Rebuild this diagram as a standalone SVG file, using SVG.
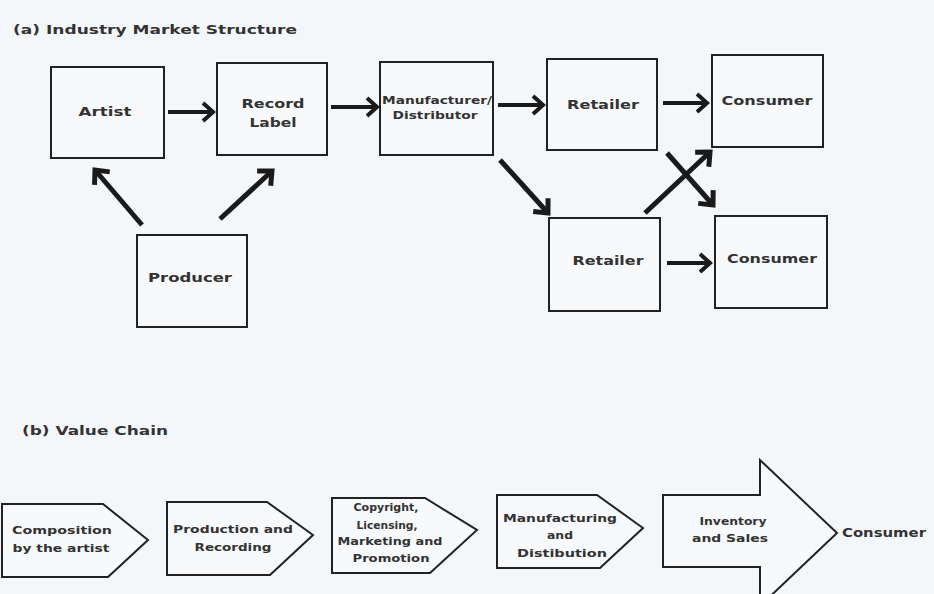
<svg xmlns="http://www.w3.org/2000/svg" width="934" height="594" viewBox="0 0 934 594">
<defs>
<marker id="ah" markerUnits="userSpaceOnUse" markerWidth="20" markerHeight="20" refX="13" refY="10" orient="auto" overflow="visible">
<path d="M3,1 L13,10 L3,19" fill="none" stroke="#1a1a1a" stroke-width="4" stroke-linejoin="miter"/>
</marker>
<marker id="ahb" markerUnits="userSpaceOnUse" markerWidth="22" markerHeight="22" refX="14" refY="11" orient="auto" overflow="visible">
<path d="M3,1 L14,11 L3,21" fill="none" stroke="#1a1a1a" stroke-width="5" stroke-linejoin="miter"/>
</marker>
</defs>
<style>
.bg{fill:#f4f7fa}
.box{fill:#f7f9fb;stroke:#222;stroke-width:2}
.t{font-family:"DejaVu Sans","Liberation Sans",sans-serif;font-weight:bold;fill:#333;text-anchor:middle}
.m{font-size:13px}
.s{font-size:10px}
.h{font-family:"DejaVu Sans","Liberation Sans",sans-serif;font-weight:bold;fill:#333;font-size:12px}
.c{stroke:#1a1a1a;stroke-width:4;fill:none;marker-end:url(#ah)}
.d{stroke:#1a1a1a;stroke-width:5;fill:none;marker-end:url(#ahb)}
.p{fill:#f7f9fb;stroke:#222;stroke-width:2;stroke-linejoin:miter}
</style>
<rect class="bg" x="0" y="0" width="934" height="594"/>
<text class="h" x="13" y="34" textLength="284" lengthAdjust="spacingAndGlyphs">(a) Industry Market Structure</text>
<text class="h" x="22" y="435" textLength="146" lengthAdjust="spacingAndGlyphs">(b) Value Chain</text>

<g id="artist"><rect class="box" x="51" y="67" width="113" height="91"/><text class="t m" x="105" y="116" textLength="53" lengthAdjust="spacingAndGlyphs">Artist</text></g>
<g id="record-label"><rect class="box" x="217" y="63" width="110" height="92"/><text class="t m" x="273" y="108" textLength="63" lengthAdjust="spacingAndGlyphs">Record</text><text class="t m" x="273" y="127" textLength="47" lengthAdjust="spacingAndGlyphs">Label</text></g>
<g id="manufacturer"><rect class="box" x="380" y="62" width="113" height="93"/><text class="t s" x="437" y="104" textLength="110" lengthAdjust="spacingAndGlyphs">Manufacturer/</text><text class="t s" x="435" y="119" textLength="85" lengthAdjust="spacingAndGlyphs">Distributor</text></g>
<g id="retailer-top"><rect class="box" x="547" y="59" width="110" height="91"/><text class="t m" x="603" y="109" textLength="72" lengthAdjust="spacingAndGlyphs">Retailer</text></g>
<g id="consumer-top"><rect class="box" x="712" y="55" width="111" height="92"/><text class="t m" x="767" y="105" textLength="91" lengthAdjust="spacingAndGlyphs">Consumer</text></g>
<g id="producer"><rect class="box" x="137" y="235" width="110" height="92"/><text class="t m" x="190" y="282" textLength="84" lengthAdjust="spacingAndGlyphs">Producer</text></g>
<g id="retailer-bottom"><rect class="box" x="549" y="218" width="111" height="93"/><text class="t m" x="608" y="265" textLength="71" lengthAdjust="spacingAndGlyphs">Retailer</text></g>
<g id="consumer-bottom"><rect class="box" x="715" y="216" width="112" height="92"/><text class="t m" x="772" y="263" textLength="90" lengthAdjust="spacingAndGlyphs">Consumer</text></g>

<g id="connectors">
<line class="c" x1="168" y1="112" x2="213" y2="112"/>
<line class="c" x1="331" y1="107" x2="377" y2="107"/>
<line class="c" x1="498" y1="105" x2="543" y2="105"/>
<line class="c" x1="663" y1="103" x2="707" y2="103"/>
<line class="c" x1="667" y1="263" x2="710" y2="263"/>
<line class="d" x1="142" y1="225" x2="95" y2="170"/>
<line class="d" x1="220" y1="219" x2="272" y2="171"/>
<line class="d" x1="500" y1="160" x2="548" y2="213"/>
<line class="d" x1="645" y1="213" x2="710" y2="152"/>
<line class="d" x1="667" y1="153" x2="713" y2="205"/>
</g>

<g id="composition"><polygon class="p" points="2,504 103,504 148,540 108,577 2,577"/><text class="t s" x="62" y="534" textLength="100" lengthAdjust="spacingAndGlyphs">Composition</text><text class="t s" x="61" y="552" textLength="97" lengthAdjust="spacingAndGlyphs">by the artist</text></g>
<g id="production"><polygon class="p" points="167,502 267,502 313,535 270,575 167,575"/><text class="t s" x="233" y="533" textLength="120" lengthAdjust="spacingAndGlyphs">Production and</text><text class="t s" x="233" y="551" textLength="77" lengthAdjust="spacingAndGlyphs">Recording</text></g>
<g id="copyright"><polygon class="p" points="332,498 425,498 477,530 430,573 332,573"/><text class="t s" x="386" y="511" textLength="65" lengthAdjust="spacingAndGlyphs">Copyright,</text><text class="t s" x="387" y="529" textLength="61" lengthAdjust="spacingAndGlyphs">Licensing,</text><text class="t s" x="390" y="545" textLength="105" lengthAdjust="spacingAndGlyphs">Marketing and</text><text class="t s" x="391" y="562" textLength="77" lengthAdjust="spacingAndGlyphs">Promotion</text></g>
<g id="manufacturing"><polygon class="p" points="497,495 597,495 643,528 600,568 497,568"/><text class="t s" x="560" y="522" textLength="114" lengthAdjust="spacingAndGlyphs">Manufacturing</text><text class="t s" x="560" y="539" textLength="26" lengthAdjust="spacingAndGlyphs">and</text><text class="t s" x="562" y="557" textLength="90" lengthAdjust="spacingAndGlyphs">Distibution</text></g>
<g id="inventory"><polygon class="p" points="663,495 760,495 760,460 837,533 760,606 760,567 663,567"/><text class="t s" x="733" y="525" textLength="67" lengthAdjust="spacingAndGlyphs">Inventory</text><text class="t s" x="730" y="542" textLength="76" lengthAdjust="spacingAndGlyphs">and Sales</text></g>
<g id="consumer-end"><text class="t m" x="884" y="537" textLength="84" lengthAdjust="spacingAndGlyphs">Consumer</text></g>
</svg>
